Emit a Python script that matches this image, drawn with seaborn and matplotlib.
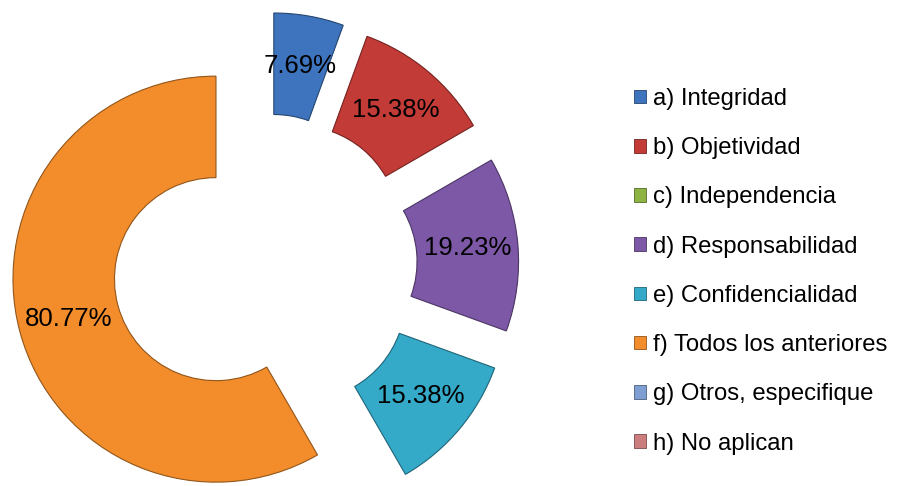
import matplotlib
matplotlib.use("Agg")
import matplotlib.pyplot as plt
import numpy as np
import seaborn as sns
from matplotlib.patches import Patch

categories = ["a) Integridad", "b) Objetividad", "c) Independencia", "d) Responsabilidad",
              "e) Confidencialidad", "f) Todos los anteriores", "g) Otros, especifique", "h) No aplican"]
values = [7.69, 15.38, 0.0, 19.23, 15.38, 80.77, 0.0, 0.0]
colors = ["#3D74BD", "#C23B36", "#8DB443", "#7D58A6", "#34A9C8", "#F38D2B", "#7F9FD2", "#CC7D7D"]

sns.set_theme(style="white")
plt.rcParams["font.family"] = ["Liberation Sans", "DejaVu Sans"]
plt.rcParams["text.color"] = "black"

fig = plt.figure(figsize=(9, 4.86), dpi=100)
ax = fig.add_axes([0, 0, 1, 1])

nz = [i for i, v in enumerate(values) if v > 0]
vals = [values[i] for i in nz]
cols = [colors[i] for i in nz]
edges = [tuple(np.array(matplotlib.colors.to_rgb(c)) * 0.6) for c in cols]

wedges, _ = ax.pie(vals, colors=cols, startangle=90, counterclock=False,
                   explode=[0.25] * len(vals), radius=1.0,
                   wedgeprops=dict(width=0.5, linewidth=0.8))
for w, ec in zip(wedges, edges):
    w.set_edgecolor(ec)

for w, v in zip(wedges, vals):
    ang = np.deg2rad((w.theta1 + w.theta2) / 2)
    cx, cy = w.center
    r = 0.75
    ax.text(cx + r * np.cos(ang), cy + r * np.sin(ang), f"{v:.2f}%",
            ha="center", va="center", fontsize=18.5, color="black")

ax.set_xlim(-265 / 203, 635 / 203)
ax.set_ylim(-220 / 203, 266 / 203)
ax.set_aspect("equal")
ax.axis("off")

handles = [Patch(facecolor=c, edgecolor=tuple(np.array(matplotlib.colors.to_rgb(c)) * 0.6), linewidth=0.6)
           for c in colors]
leg = fig.legend(handles, categories, loc="upper left", bbox_to_anchor=(634 / 900, 1 - 88 / 486),
                 frameon=False, fontsize=17.2, handlelength=0.5, handleheight=0.5,
                 handletextpad=0.3, labelspacing=1.14, borderaxespad=0, borderpad=0)
for t in leg.get_texts():
    t.set_color("black")

fig.savefig("out.png", dpi=100)
